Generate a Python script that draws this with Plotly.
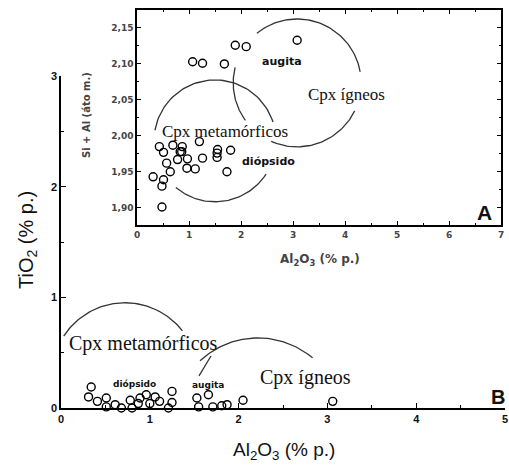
import numpy as np
import plotly.graph_objects as go

# ---------------- data ----------------
# Inset A: Al2O3 (% p.) vs Si + Al (átomos)
inset_al2o3 = [3.08, 1.89, 2.10, 1.07, 1.26, 1.68, 1.20, 0.43, 0.69, 0.87,
               0.51, 0.83, 1.55, 1.80, 1.54, 0.78, 0.97, 1.26, 0.57, 0.96,
               1.12, 1.73, 0.64, 0.31, 0.51, 0.48, 0.48, 0.86, 1.54]
inset_sial = [2.133, 2.126, 2.124, 2.103, 2.101, 2.100, 1.992, 1.985, 1.987, 1.985,
              1.977, 1.978, 1.981, 1.980, 1.970, 1.967, 1.968, 1.969, 1.962, 1.955,
              1.954, 1.950, 1.950, 1.943, 1.939, 1.930, 1.901, 1.978, 1.976]

# Main B: Al2O3 (% p.) vs TiO2 (% p.)
main_al2o3 = [0.34, 0.31, 0.41, 0.51, 0.51, 0.61, 0.68, 0.80, 0.78, 0.87,
              0.89, 0.96, 1.00, 1.06, 1.11, 1.21, 1.25, 1.25, 1.53, 1.55,
              1.66, 1.71, 1.81, 1.87, 2.05, 3.06]
main_tio2 = [0.19, 0.10, 0.06, 0.09, 0.01, 0.03, 0.00, 0.00, 0.07, 0.04,
             0.09, 0.12, 0.04, 0.10, 0.06, 0.00, 0.15, 0.05, 0.09, 0.01,
             0.12, 0.01, 0.02, 0.03, 0.07, 0.06]

main_xticks = [0, 1, 2, 3, 4, 5]
main_yticks = [0, 1, 2, 3]
inset_xticks = [0, 1, 2, 3, 4, 5, 6, 7]
inset_yticks = [1.90, 1.95, 2.00, 2.05, 2.10, 2.15]

# field outlines: (center x, center y, radius x, radius y, [(start deg, end deg), ...])
inset_igneo = (3.08, 2.0736, 1.23, 0.0889, [(129, 10), (-26, -114), (166, 216)])
inset_meta = (1.50, 1.993, 1.173, 0.0847, [(170, 18), (230, 327)])
main_meta = (0.72, 0.29, 0.822, 0.661, [(147, 38)])
main_igneo = (2.218, -0.136, 0.957, 0.769, [(133, 50)])

W, H = 509, 467


def px(x):
    return x / W


def py(y):
    return 1 - y / H


fig = go.Figure()

LINE = dict(color="#333333", width=1.3)


def add_arcs(spec, xa, ya):
    cx, cy, rx, ry, segs = spec
    for a0, a1 in segs:
        t = np.radians(np.linspace(a0, a1, 60))
        fig.add_trace(go.Scatter(x=cx + rx * np.cos(t), y=cy + ry * np.sin(t),
                                 mode="lines", line=LINE, xaxis=xa, yaxis=ya,
                                 hoverinfo="skip", showlegend=False))


add_arcs(main_meta, "x", "y")
add_arcs(main_igneo, "x", "y")
fig.add_trace(go.Scatter(x=[1.554, 1.689], y=[0.29, 0.47], mode="lines", line=LINE,
                         xaxis="x", yaxis="y", showlegend=False, hoverinfo="skip"))
add_arcs(inset_igneo, "x2", "y2")
add_arcs(inset_meta, "x2", "y2")

MK = dict(symbol="circle-open", size=8, color="black", line=dict(width=1.4, color="black"))
fig.add_trace(go.Scatter(x=main_al2o3, y=main_tio2, mode="markers", marker=MK,
                         xaxis="x", yaxis="y", cliponaxis=False, showlegend=False))
fig.add_trace(go.Scatter(x=inset_al2o3, y=inset_sial, mode="markers",
                         marker=dict(MK, size=8), xaxis="x2", yaxis="y2",
                         cliponaxis=False, showlegend=False))

SANS = "Arial, Liberation Sans, sans-serif"
WIDE = "DejaVu Sans, Verdana, sans-serif"
SERIF = "Times New Roman, Liberation Serif, serif"
TICKF = dict(family=SANS, size=11, color="#111")
TICKF2 = dict(family=WIDE, size=9, color="#444")

main_axis_common = dict(showgrid=False, zeroline=False, showline=True, automargin=False,
                        linecolor="black", linewidth=1.5, ticks="inside",
                        ticklen=5, tickwidth=1.3, tickcolor="black",
                        tickfont=TICKF)
inset_axis_common = dict(showgrid=False, zeroline=False, showline=True, automargin=False,
                         linecolor="black", linewidth=1.5, ticks="inside",
                         ticklen=4, tickwidth=1.2, tickcolor="black",
                         mirror="allticks", tickfont=TICKF2)

fig.update_layout(
    template="none",
    width=W, height=H, margin=dict(l=0, r=0, t=0, b=0, autoexpand=False),
    paper_bgcolor="white", plot_bgcolor="rgba(0,0,0,0)",
    separators=",.",
    xaxis=dict(domain=[px(61), px(505)], range=[0, 5], anchor="y",
               tickvals=main_xticks, ticktext=[f"<b>{v}</b>" for v in main_xticks],
               minor=dict(dtick=0.5, ticks="inside", ticklen=3, tickcolor="black"),
               **main_axis_common),
    yaxis=dict(domain=[py(408), py(76)], range=[0, 3], anchor="x",
               tickvals=main_yticks, ticktext=[f"<b>{v}</b>" for v in main_yticks],
               minor=dict(dtick=0.5, ticks="inside", ticklen=3, tickcolor="black"),
               **main_axis_common),
    xaxis2=dict(domain=[px(137), px(501)], range=[0, 7], anchor="y2",
                tickvals=inset_xticks, ticktext=[f"<b>{v}</b>" for v in inset_xticks],
                minor=dict(dtick=0.5, ticks="inside", ticklen=2, tickcolor="black"),
                **inset_axis_common),
    yaxis2=dict(domain=[py(225), py(10)], range=[1.876, 2.175], anchor="x2",
                tickvals=inset_yticks,
                ticktext=[f"<b>{v:.2f}</b>".replace(".", ",") for v in inset_yticks],
                minor=dict(dtick=0.025, ticks="inside", ticklen=2, tickcolor="black"),
                **inset_axis_common),
)

C = dict(xanchor="center", yanchor="middle", showarrow=False)
ann = []
# axis titles
ann.append(dict(text="TiO<sub>2</sub> (% p.)", x=px(27), y=py(240), xref="paper", yref="paper",
                textangle=-90, font=dict(family=SANS, size=20, color="#111"), **C))
ann.append(dict(text="Al<sub>2</sub>O<sub>3</sub> (% p.)", x=px(284), y=py(451), xref="paper",
                yref="paper", font=dict(family=SANS, size=19, color="#111"), **C))
ann.append(dict(text="<b>Al<sub>2</sub>O<sub>3</sub> (% p.)</b>", x=px(320), y=py(260),
                xref="paper", yref="paper", font=dict(family=WIDE, size=12, color="#444"), **C))
ann.append(dict(text="<b>Si + Al (áto m.)</b>", x=px(87), y=py(115), xref="paper", yref="paper",
                textangle=-90, font=dict(family=WIDE, size=10, color="#444"), **C))

# main labels
ann.append(dict(text="Cpx metamórficos", x=0.93, y=0.58, xref="x", yref="y",
                font=dict(family=SERIF, size=20, color="#111"), **C))
ann.append(dict(text="Cpx ígneos", x=2.75, y=0.28, xref="x", yref="y",
                font=dict(family=SERIF, size=20, color="#111"), **C))
ann.append(dict(text="<b>diópsido</b>", x=0.83, y=0.22, xref="x", yref="y",
                font=dict(family=WIDE, size=9, color="#111"), **C))
ann.append(dict(text="<b>augita</b>", x=1.66, y=0.21, xref="x", yref="y",
                font=dict(family=WIDE, size=9, color="#111"), **C))
ann.append(dict(text="<b>B</b>", x=4.92, y=0.10, xref="x", yref="y",
                font=dict(family=SANS, size=20, color="#111"), **C))

# inset labels
ann.append(dict(text="Cpx metamórficos", x=1.70, y=2.006, xref="x2", yref="y2",
                font=dict(family=SERIF, size=17, color="#111"), **C))
ann.append(dict(text="Cpx ígneos", x=4.02, y=2.057, xref="x2", yref="y2",
                font=dict(family=SERIF, size=17, color="#111"), **C))
ann.append(dict(text="<b>augita</b>", x=2.79, y=2.104, xref="x2", yref="y2",
                font=dict(family=WIDE, size=11, color="#111"), **C))
ann.append(dict(text="<b>diópsido</b>", x=2.53, y=1.964, xref="x2", yref="y2",
                font=dict(family=WIDE, size=11, color="#111"), **C))
ann.append(dict(text="<b>A</b>", x=6.69, y=1.893, xref="x2", yref="y2",
                font=dict(family=SANS, size=21, color="#111"), **C))

fig.update_layout(annotations=ann)
fig.write_html("out.html", config={"displayModeBar": False},
               post_script="document.body.style.margin='0';")
